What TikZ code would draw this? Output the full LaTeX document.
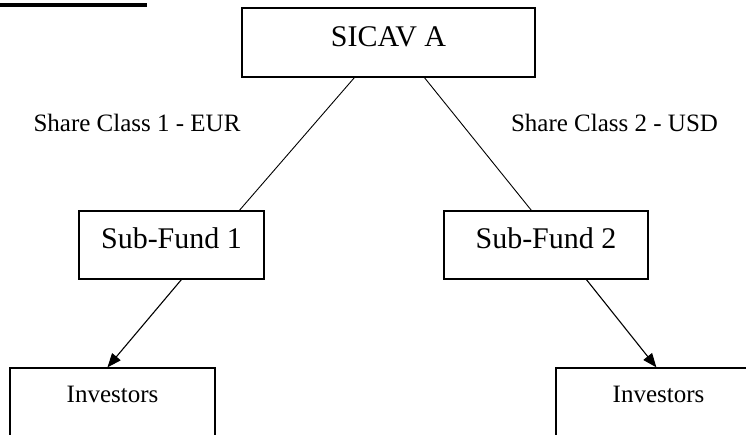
\documentclass[tikz,border=0pt]{standalone}
\usepackage{fontspec}
\setmainfont{Liberation Serif}
\usetikzlibrary{arrows.meta}
\tikzset{
  box/.style={draw=black, line width=1.2pt, inner sep=0pt, fill=white},
  bigtxt/.style={font=\fontsize{30}{33}\selectfont},
  smalltxt/.style={font=\fontsize{25}{28}\selectfont},
  lbl/.style={font=\fontsize{25}{28}\selectfont, inner sep=0pt},
  conn/.style={draw=black, line width=0.9pt},
  arr/.style={draw=black, line width=1.1pt, -{Triangle[length=14pt,width=11pt]}}
}
\begin{document}
\begin{tikzpicture}[x=1pt,y=-1pt]
\useasboundingbox (0,0) rectangle (746,435);
\clip (0,0) rectangle (746,435);
\fill[white] (0,0) rectangle (746,435);
% cut-off underlined heading
\draw[line width=3.2pt] (0,5) -- (147,5);
% boxes
\node[box, bigtxt, minimum width=293pt, minimum height=69pt, text height=8.9pt, text depth=0pt] (sicav) at (388.5,42.5) {SICAV A};
\node[box, bigtxt, minimum width=185pt, minimum height=68pt, text height=7.9pt, text depth=0pt] (sf1) at (171.5,245) {Sub-Fund 1};
\node[box, bigtxt, minimum width=204pt, minimum height=68pt, text height=7.9pt, text depth=0pt] (sf2) at (546,245) {Sub-Fund 2};
\node[box, smalltxt, minimum width=205pt, minimum height=90pt, text height=0pt, text depth=21.4pt] (inv1) at (112.5,413) {Investors};
\node[box, smalltxt, minimum width=205pt, minimum height=90pt, text height=0pt, text depth=21.4pt] (inv2) at (658.5,413) {Investors};
% labels
\node[lbl] (sc1) at (137,123) {Share Class 1 - EUR};
\node[lbl] (sc2) at (614.5,123) {Share Class 2 - USD};
% connectors
\draw[conn] ([xshift=113pt]sicav.south west) -- ([xshift=161pt]sf1.north west);
\draw[conn] ([xshift=183pt]sicav.south west) -- ([xshift=88pt]sf2.north west);
\draw[arr] ([xshift=103pt]sf1.south west) -- ([xshift=98pt]inv1.north west);
\draw[arr] ([xshift=143pt]sf2.south west) -- ([xshift=101pt]inv2.north west);
\end{tikzpicture}
\end{document}
